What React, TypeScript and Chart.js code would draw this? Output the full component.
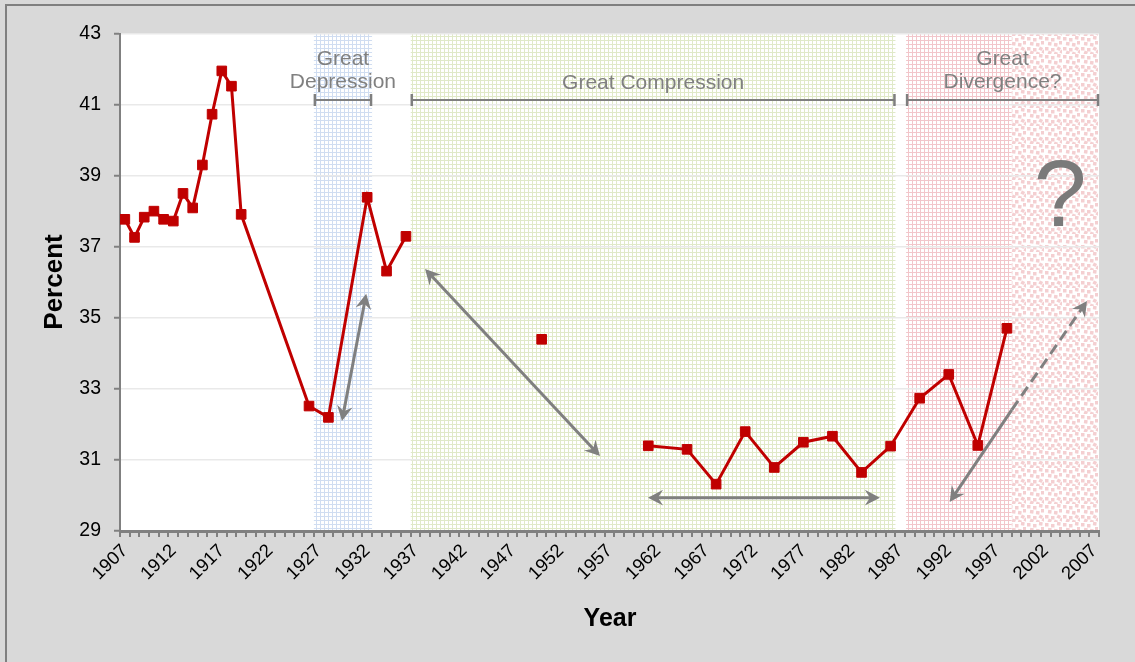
import React, { useEffect, useRef } from "react";
import { Chart, registerables } from "chart.js";

Chart.register(...registerables);

const FONT = "'Liberation Sans', Arial, sans-serif";

// ---- data ----
const earlyYears = [1907, 1908, 1909, 1910, 1911, 1912, 1913, 1914, 1915, 1916, 1917, 1918, 1919, 1926, 1928, 1932, 1934, 1936];
const earlyValues = [37.78, 37.27, 37.84, 38.01, 37.78, 37.73, 38.51, 38.1, 39.31, 40.74, 41.96, 41.53, 37.92, 32.52, 32.2, 38.4, 36.32, 37.3];
const midYears = [1950];
const midValues = [34.4];
const lateYears = [1961, 1965, 1968, 1971, 1974, 1977, 1980, 1983, 1986, 1989, 1992, 1995, 1998];
const lateValues = [31.4, 31.3, 30.32, 31.8, 30.79, 31.5, 31.67, 30.65, 31.39, 32.74, 33.41, 31.41, 34.71];

const tickYears = [1907, 1912, 1917, 1922, 1927, 1932, 1937, 1942, 1947, 1952, 1957, 1962, 1967, 1972, 1977, 1982, 1987, 1992, 1997, 2002, 2007];
const yTickValues = [29, 31, 33, 35, 37, 39, 41, 43];

// eras (shaded bands) in year units
const eraNames = [["Great", "Depression"], ["Great Compression"], ["Great", "Divergence?"]];
const eraFrom = [1926.5, 1936.5, 1987.6];
const eraTo = [1932.5, 1986.5, 2007.5];
const eraKinds = ["blue", "green", "pink"];

// annotation arrows: [x1, y1, x2, y2]
const solidArrows = [
  [1929.4, 32.1, 1931.9, 35.68],
  [1937.97, 36.38, 1956.02, 31.11],
  [1960.97, 29.94, 1984.9, 29.94],
];
const dashedArrow = [1992.1, 29.82, 1998.5, 32.41, 2006.26, 35.48];

const toXY = (xs: number[], ys: number[]) => xs.map((x, i) => ({ x, y: ys[i] }));

function gridPattern(ctx: CanvasRenderingContext2D, color: string, size: number) {
  const c = document.createElement("canvas");
  c.width = size;
  c.height = size;
  const g = c.getContext("2d")!;
  g.fillStyle = "#ffffff";
  g.fillRect(0, 0, size, size);
  g.fillStyle = color;
  g.fillRect(0, 0, size, 1);
  g.fillRect(0, 0, 1, size);
  return ctx.createPattern(c, "repeat")!;
}

function dotPattern(ctx: CanvasRenderingContext2D) {
  const n = 18;
  const c = document.createElement("canvas");
  c.width = n;
  c.height = n;
  const g = c.getContext("2d")!;
  g.fillStyle = "#ffffff";
  g.fillRect(0, 0, n, n);
  g.fillStyle = "#f4cfd1";
  const spots = [
    [1, 1], [7, 2], [13, 0], [4, 6], [10, 7], [15, 5], [1, 11], [7, 12], [13, 11], [4, 15], [10, 16], [16, 14],
  ];
  for (const [sx, sy] of spots) {
    g.save();
    g.translate(sx + 1.75, sy + 1.75);
    g.rotate(((sx * 7 + sy * 3) % 5) * 0.12);
    g.fillRect(-1.75, -1.75, 3.5, 3.5);
    g.restore();
  }
  return ctx.createPattern(c, "repeat")!;
}

function arrowHead(ctx: CanvasRenderingContext2D, tx: number, ty: number, fx: number, fy: number) {
  const ang = Math.atan2(ty - fy, tx - fx);
  const len = 17;
  const wid = 0.48;
  ctx.beginPath();
  ctx.moveTo(tx, ty);
  ctx.lineTo(tx - len * Math.cos(ang - wid), ty - len * Math.sin(ang - wid));
  ctx.lineTo(tx - 10 * Math.cos(ang), ty - 10 * Math.sin(ang));
  ctx.lineTo(tx - len * Math.cos(ang + wid), ty - len * Math.sin(ang + wid));
  ctx.closePath();
  ctx.fill();
}

const decor = {
  id: "decor",
  beforeDraw(chart: any) {
    const { ctx, chartArea, scales } = chart;
    const { left, top, right, bottom } = chartArea;
    const x = scales.x;
    ctx.save();
    ctx.fillStyle = "#d9d9d9";
    ctx.fillRect(0, 0, chart.width, chart.height);
    ctx.fillStyle = "#808080";
    ctx.fillRect(5, 4, chart.width, 2);
    ctx.fillRect(5, 4, 2, chart.height);
    ctx.fillStyle = "#ffffff";
    ctx.fillRect(left, top, right - left, bottom - top);
    const pats: any = {
      blue: gridPattern(ctx, "#d0ddf1", 4),
      green: gridPattern(ctx, "#e0e9c8", 4),
      pink: gridPattern(ctx, "#f2c6cb", 4),
    };
    for (let i = 0; i < eraFrom.length; i++) {
      const a = x.getPixelForValue(eraFrom[i]);
      const b = x.getPixelForValue(eraTo[i]);
      if (eraKinds[i] === "pink") {
        const mid = x.getPixelForValue(1998.5);
        ctx.fillStyle = pats.pink;
        ctx.fillRect(a, top, mid - a, bottom - top);
        ctx.fillStyle = dotPattern(ctx);
        ctx.fillRect(mid, top, b - mid, bottom - top);
      } else {
        ctx.fillStyle = pats[eraKinds[i]];
        ctx.fillRect(a, top, b - a, bottom - top);
      }
    }
    ctx.restore();
  },
  afterDatasetsDraw(chart: any) {
    const { ctx, chartArea, scales } = chart;
    const { bottom } = chartArea;
    const x = scales.x;
    const y = scales.y;
    ctx.save();
    // minor year ticks
    ctx.strokeStyle = "#808080";
    ctx.lineWidth = 2;
    for (let yr = 1906.5; yr <= 2007.6; yr += 1) {
      const px = Math.round(x.getPixelForValue(yr));
      ctx.beginPath();
      ctx.moveTo(px, bottom);
      ctx.lineTo(px, bottom + 6);
      ctx.stroke();
    }
    // arrows
    ctx.strokeStyle = "#808080";
    ctx.fillStyle = "#808080";
    ctx.lineWidth = 3;
    for (const a of solidArrows) {
      const x1 = x.getPixelForValue(a[0]);
      const y1 = y.getPixelForValue(a[1]);
      const x2 = x.getPixelForValue(a[2]);
      const y2 = y.getPixelForValue(a[3]);
      const ang = Math.atan2(y2 - y1, x2 - x1);
      ctx.beginPath();
      ctx.moveTo(x1 + 9 * Math.cos(ang), y1 + 9 * Math.sin(ang));
      ctx.lineTo(x2 - 9 * Math.cos(ang), y2 - 9 * Math.sin(ang));
      ctx.stroke();
      arrowHead(ctx, x1, y1, x2, y2);
      arrowHead(ctx, x2, y2, x1, y1);
    }
    {
      const d = dashedArrow;
      const x1 = x.getPixelForValue(d[0]);
      const y1 = y.getPixelForValue(d[1]);
      const xm = x.getPixelForValue(d[2]);
      const ym = y.getPixelForValue(d[3]);
      const x2 = x.getPixelForValue(d[4]);
      const y2 = y.getPixelForValue(d[5]);
      const ang = Math.atan2(y2 - y1, x2 - x1);
      ctx.beginPath();
      ctx.moveTo(x1 + 9 * Math.cos(ang), y1 + 9 * Math.sin(ang));
      ctx.lineTo(xm, ym);
      ctx.stroke();
      ctx.setLineDash([11, 6]);
      ctx.beginPath();
      ctx.moveTo(xm, ym);
      ctx.lineTo(x2 - 9 * Math.cos(ang), y2 - 9 * Math.sin(ang));
      ctx.stroke();
      ctx.setLineDash([]);
      arrowHead(ctx, x1, y1, x2, y2);
      arrowHead(ctx, x2, y2, x1, y1);
    }
    // era brackets and labels
    ctx.strokeStyle = "#7f7f7f";
    ctx.fillStyle = "#808080";
    ctx.font = `21px ${FONT}`;
    ctx.textAlign = "center";
    ctx.textBaseline = "middle";
    const by = y.getPixelForValue(41.14);
    for (let i = 0; i < eraFrom.length; i++) {
      const a = x.getPixelForValue(eraFrom[i]) + 1;
      const b = x.getPixelForValue(eraTo[i]) - 1;
      ctx.lineWidth = 2;
      ctx.beginPath();
      ctx.moveTo(a, by);
      ctx.lineTo(b, by);
      ctx.stroke();
      ctx.lineWidth = 2.5;
      ctx.beginPath();
      ctx.moveTo(a, by - 6);
      ctx.lineTo(a, by + 6);
      ctx.moveTo(b, by - 6);
      ctx.lineTo(b, by + 6);
      ctx.stroke();
      const cx = (a + b) / 2;
      const lines = eraNames[i];
      if (lines.length === 1) {
        ctx.fillText(lines[0], cx, y.getPixelForValue(41.6));
      } else {
        ctx.fillText(lines[0], cx, y.getPixelForValue(42.3));
        ctx.fillText(lines[1], cx, y.getPixelForValue(41.65));
      }
    }
    ctx.fillStyle = "#7a7a7a";
    ctx.font = `95px ${FONT}`;
    ctx.fillText("?", x.getPixelForValue(2003.5), y.getPixelForValue(38.32));
    // axis titles
    ctx.fillStyle = "#000000";
    ctx.font = `bold 25px ${FONT}`;
    ctx.fillText("Year", 610, 619);
    ctx.translate(55, 282);
    ctx.rotate(-Math.PI / 2);
    ctx.font = `bold 26px ${FONT}`;
    ctx.fillText("Percent", 0, 0);
    ctx.restore();
  },
};

export default function App() {
  const ref = useRef<HTMLCanvasElement>(null);
  useEffect(() => {
    const lineStyle = {
      borderColor: "#c00000",
      backgroundColor: "#c00000",
      borderWidth: 3,
      pointStyle: "rect" as const,
      pointRadius: 6.8,
      pointBorderWidth: 1,
      pointBackgroundColor: "#c00000",
      pointBorderColor: "#c00000",
      tension: 0,
      spanGaps: false,
    };
    const chart = new Chart(ref.current!, {
      type: "line",
      data: {
        datasets: [
          { label: "early", data: toXY(earlyYears, earlyValues), ...lineStyle },
          { label: "mid", data: toXY(midYears, midValues), ...lineStyle, showLine: false },
          { label: "late", data: toXY(lateYears, lateValues), ...lineStyle },
        ],
      },
      options: {
        animation: false,
        responsive: false,
        devicePixelRatio: 1,
        layout: { padding: { top: 34, right: 36, left: 0, bottom: 0 } },
        plugins: { legend: { display: false }, tooltip: { enabled: false } },
        scales: {
          x: {
            type: "linear",
            min: 1906.5,
            max: 2007.5,
            afterBuildTicks: (s: any) => {
              s.ticks = tickYears.map((v) => ({ value: v }));
            },
            afterFit: (s: any) => {
              s.height = 131;
            },
            grid: { display: false, drawTicks: false },
            border: { display: true, color: "#808080", width: 3 },
            ticks: {
              autoSkip: false,
              minRotation: 45,
              maxRotation: 45,
              padding: 9,
              color: "#000000",
              font: { family: FONT, size: 18.5 },
              callback: (v: any) => String(v),
            },
          },
          y: {
            min: 29,
            max: 43,
            afterBuildTicks: (s: any) => {
              s.ticks = yTickValues.map((v) => ({ value: v }));
            },
            afterFit: (s: any) => {
              s.width = 120;
            },
            grid: { color: "#e9e9e9", lineWidth: 1.5, tickLength: 6, tickColor: "#808080", tickWidth: 2 },
            border: { display: true, color: "#808080", width: 2 },
            ticks: {
              padding: 13,
              color: "#000000",
              font: { family: FONT, size: 19.5 },
              callback: (v: any) => String(v),
            },
          },
        },
      },
      plugins: [decor],
    });
    return () => chart.destroy();
  }, []);
  return (
    <div style={{ position: "absolute", left: 0, top: 0, width: 1135, height: 662 }}>
      <canvas ref={ref} width={1135} height={662} style={{ display: "block" }} />
    </div>
  );
}
